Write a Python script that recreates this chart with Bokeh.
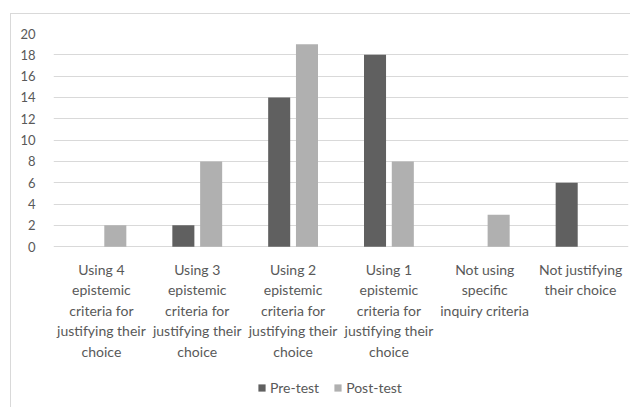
from bokeh.plotting import figure
from bokeh.models import FactorRange, Range1d, Legend, LegendItem, ColumnDataSource, FixedTicker
from bokeh.core.properties import value
from bokeh.transform import dodge
from bokeh.embed import file_html
from bokeh.resources import INLINE

categories = [
    "Using 4\nepistemic\ncriteria for\njustifying their\nchoice",
    "Using 3\nepistemic\ncriteria for\njustifying their\nchoice",
    "Using 2\nepistemic\ncriteria for\njustifying their\nchoice",
    "Using 1\nepistemic\ncriteria for\njustifying their\nchoice",
    "Not using\nspecific\ninquiry criteria",
    "Not justifying\ntheir choice",
]
pre_test = [0, 2, 14, 18, 0, 6]
post_test = [2, 8, 19, 8, 3, 0]
y_ticks = [0, 2, 4, 6, 8, 10, 12, 14, 16, 18, 20]

FONT = "Lato"
TXT = "#595959"
src = ColumnDataSource(dict(cat=categories, pre=pre_test, post=post_test))

# frame extends below zero so category labels and legend sit under the bars
Y_LOW = -14.9
p = figure(x_range=FactorRange(*categories, range_padding=0), y_range=Range1d(Y_LOW, 20),
           frame_width=575, frame_height=372, output_backend="svg", toolbar_location=None,
           min_border_left=42, min_border_right=2, min_border_top=19, min_border_bottom=2)
p.styles = {"margin-left": "10px", "margin-top": "13px",
            "border-left": "1px solid #d9d9d9", "border-top": "1px solid #d9d9d9"}

r1 = p.vbar(x=dodge("cat", -0.145, range=p.x_range), top="pre", bottom=0, width=0.23,
            source=src, fill_color="#606060", line_color=None)
r2 = p.vbar(x=dodge("cat", 0.145, range=p.x_range), top="post", bottom=0, width=0.23,
            source=src, fill_color="#b0b0b0", line_color=None)

# category labels under the zero line
lab_src = ColumnDataSource(dict(cat=categories, y=[-1.35] * len(categories)))
p.text(x="cat", y="y", text="cat", source=lab_src, text_align="center",
       text_baseline="top", text_font=value(FONT), text_font_size="14px",
       text_color=TXT, text_line_height=1.2)

p.outline_line_color = None
p.xaxis.visible = False
p.xgrid.grid_line_color = None
p.ygrid.grid_line_color = "#d9d9d9"
p.ygrid.grid_line_width = 1.2
p.ygrid.ticker = FixedTicker(ticks=y_ticks)
p.yaxis.ticker = FixedTicker(ticks=y_ticks)
ax = p.yaxis[0]
ax.axis_line_color = None
ax.major_tick_line_color = None
ax.minor_tick_line_color = None
ax.major_label_text_font = FONT
ax.major_label_text_color = TXT
ax.major_label_text_font_size = "13px"
ax.major_label_standoff = 12

legend = Legend(items=[LegendItem(label="Pre-test", renderers=[r1]),
                       LegendItem(label="Post-test", renderers=[r2])],
                orientation="horizontal", location=(204, 9),
                label_text_font=FONT, label_text_font_size="14px",
                label_text_color=TXT, glyph_width=9, glyph_height=9,
                spacing=14, label_standoff=4, border_line_color=None,
                background_fill_alpha=0, padding=2, margin=0,
                label_height=16)
p.add_layout(legend, "center")

open("out.html", "w").write(file_html(p, INLINE))
